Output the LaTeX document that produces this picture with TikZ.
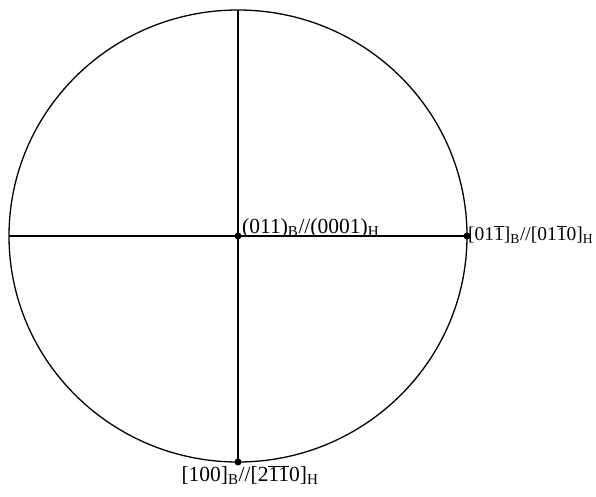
\documentclass[tikz,border=0pt]{standalone}
\usepackage{fontspec}
\setmainfont{Liberation Serif}
\newcommand{\ob}[1]{$\overline{\hbox{#1}}$}
\newcommand{\sbs}[1]{\textsubscript{#1}}
\begin{document}
\begin{tikzpicture}[x=1pt,y=-1pt,
  axis/.style={line width=1.5pt},
  pole/.style={circle,fill=black,inner sep=0pt,minimum size=7pt},
  lab/.style={font=\fontsize{21.5}{24}\selectfont,inner sep=1pt}]
\useasboundingbox (0,0) rectangle (596,496);
\coordinate (c) at (238,236);
\draw[line width=1.3pt] (c) ellipse [x radius=229, y radius=226];
\node[pole] (o) at (c) {};
\node[pole] (r) at (467,236) {};
\node[pole] (b) at (238,462) {};
\coordinate (t) at (238,10);
\coordinate (l) at (9,236);
\draw[axis] (t) -- (o.center) -- (b.center);
\draw[axis] (l) -- (o.center) -- (r.center);
\node[lab,anchor=south west] (ol) at (241,239) {(011)\sbs{B}//(0001)\sbs{H}};
\node[lab,anchor=west,font=\fontsize{19.5}{22}\selectfont] (rl) at (467,235) {[01\ob{1}]\sbs{B}//[01\ob{1}0]\sbs{H}};
\node[lab,anchor=north] (bl) at (250,464) {[100]\sbs{B}//[2\ob{11}0]\sbs{H}};
\end{tikzpicture}
\end{document}
